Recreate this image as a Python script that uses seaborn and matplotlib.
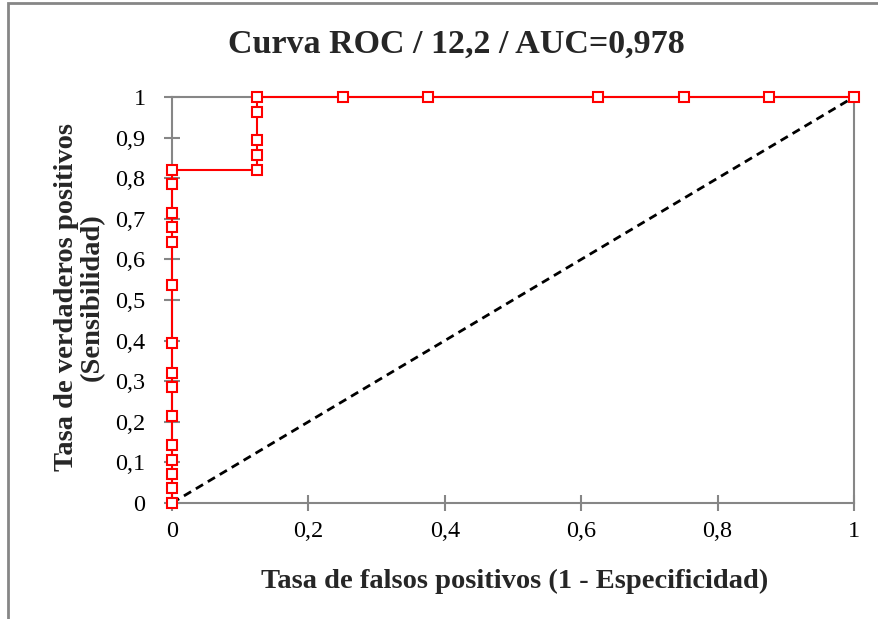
import matplotlib
matplotlib.use("Agg")
import matplotlib.pyplot as plt
import seaborn as sns
import pandas as pd
from matplotlib.patches import Rectangle

# Data
fpr = [0, 0, 0, 0, 0, 0, 0, 0, 0, 0, 0, 0, 0, 0, 0,
       0.125, 0.125, 0.125, 0.125, 0.125,
       0.25, 0.375, 0.625, 0.75, 0.875, 1]
tpr = [0, 0.036, 0.071, 0.107, 0.143, 0.214, 0.286, 0.321, 0.393, 0.536,
       0.643, 0.679, 0.714, 0.786, 0.821,
       0.821, 0.857, 0.893, 0.964, 1,
       1, 1, 1, 1, 1, 1]
diag_x = [0, 1]
diag_y = [0, 1]
x_ticks = [0, 0.2, 0.4, 0.6, 0.8, 1]
x_tick_labels = ["0", "0,2", "0,4", "0,6", "0,8", "1"]
y_ticks = [0, 0.1, 0.2, 0.3, 0.4, 0.5, 0.6, 0.7, 0.8, 0.9, 1]
y_tick_labels = ["0", "0,1", "0,2", "0,3", "0,4", "0,5", "0,6", "0,7", "0,8", "0,9", "1"]
title = "Curva ROC / 12,2 / AUC=0,978"
xlabel = "Tasa de falsos positivos (1 - Especificidad)"
ylabel = "Tasa de verdaderos positivos\n(Sensibilidad)"

sns.set_theme(style="white")
plt.rcParams['font.family'] = ['Liberation Serif', 'DejaVu Serif']

gray = "#868686"
fig = plt.figure(figsize=(8.79, 6.19), dpi=100)
ax = fig.add_axes([172/879, 1-503/619, (854-172)/879, (503-97)/619])

df = pd.DataFrame({"fpr": fpr, "tpr": tpr})
ddf = pd.DataFrame({"x": diag_x, "y": diag_y})

sns.lineplot(data=ddf, x="x", y="y", ax=ax, color="black", linestyle=(0, (3, 2)),
             linewidth=2, zorder=2)
sns.lineplot(data=df, x="fpr", y="tpr", ax=ax, sort=False, estimator=None,
             color="#ff0000", linewidth=1.5, marker="s", markersize=6.5,
             markerfacecolor="white", markeredgecolor="#ff0000",
             markeredgewidth=1.5, zorder=3, clip_on=False)

ax.set_xlim(0, 1)
ax.set_ylim(0, 1)
ax.set_xticks(x_ticks)
ax.set_xticklabels(x_tick_labels)
ax.set_yticks(y_ticks)
ax.set_yticklabels(y_tick_labels)
ax.tick_params(axis="both", direction="inout", length=12, width=1.5, color=gray,
               labelsize=17.5, labelcolor="black", bottom=True, left=True)
ax.tick_params(axis="x", pad=7)
ax.tick_params(axis="y", pad=13)
for s in ax.spines.values():
    s.set_color(gray)
    s.set_linewidth(1.5)
ax.grid(False)

ax.set_xlabel("")
ax.set_ylabel("")
fig.text(515/879, 1-588/619, xlabel, ha="center", va="baseline",
         fontsize=20.5, fontweight="bold")
fig.text(79/879, 1-297/619, ylabel, ha="center", va="center", rotation=90,
         fontsize=20.5, fontweight="bold", linespacing=1.05)
fig.text(456/879, 1-53/619, title, ha="center", va="baseline",
         fontsize=24.5, fontweight="bold")

fig.patches.append(Rectangle((8/879, -0.1), 1.2, 1 - 3/619 + 0.1,
                             transform=fig.transFigure, fill=False,
                             edgecolor=gray, linewidth=2, zorder=0))

fig.savefig("out.png", dpi=100)
